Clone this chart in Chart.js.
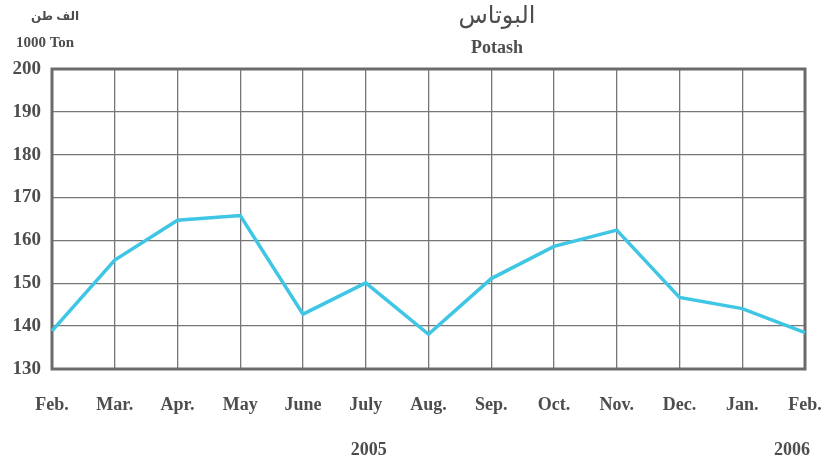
<!DOCTYPE html>
<html>
<head>
<meta charset="utf-8">
<script src="https://cdn.jsdelivr.net/npm/chart.js@4/dist/chart.umd.min.js"></script>
<style>
html,body{margin:0;padding:0;background:#fff;}
#wrap{width:829px;height:465px;position:relative;}
</style>
</head>
<body>
<div id="wrap"><canvas id="c" width="829" height="465"></canvas></div>
<script>
const months = ["Feb.","Mar.","Apr.","May","June","July","Aug.","Sep.","Oct.","Nov.","Dec.","Jan.","Feb."];
const potash = [138.9,155.4,164.7,165.8,142.8,150.1,138.1,151.1,158.6,162.4,146.7,144.1,138.5];
const yearLabels = ["2005","2006"];
const yearIndex = [5,12];
const titleAr = "البوتاس";
const titleEn = "Potash";
const unitAr = "الف طن";
const unitEn = "1000 Ton";

const FONT = "'Liberation Serif','Times New Roman',serif";
const TXT = "#4d4d4d";

const extras = {
  id: 'extras',
  beforeDatasetsDraw(chart){
    const {ctx, chartArea:a} = chart;
    ctx.save();
    ctx.strokeStyle = '#6b6b6b';
    ctx.lineWidth = 3;
    ctx.strokeRect(a.left, a.top, a.right - a.left, a.bottom - a.top);
    ctx.restore();
  },
  afterDraw(chart){
    const {ctx} = chart;
    const x = chart.scales.x;
    ctx.save();
    ctx.fillStyle = TXT;
    ctx.textBaseline = 'middle';
    ctx.textAlign = 'center';
    ctx.font = "24px 'Noto Sans','DejaVu Sans',sans-serif";
    ctx.fillText(titleAr, 497, 16);
    ctx.font = "bold 18px " + FONT;
    ctx.fillText(titleEn, 497, 48);
    ctx.font = "bold 12px 'Noto Sans','DejaVu Sans',sans-serif";
    ctx.fillText(unitAr, 55, 17);
    ctx.font = "bold 15px " + FONT;
    ctx.fillText(unitEn, 45, 43);
    ctx.font = "bold 18px " + FONT;
    const last = months.length - 1;
    yearLabels.forEach((lab, i) => {
      const idx = yearIndex[i];
      const px = x.getPixelForValue(idx);
      ctx.fillText(lab, idx === last ? px - 13 : px + 3, 450);
    });
    ctx.restore();
  }
};

new Chart(document.getElementById('c'), {
  type: 'line',
  data: {
    labels: months,
    datasets: [{
      data: potash,
      borderColor: '#3ec6e4',
      borderWidth: 3.5,
      pointRadius: 0,
      tension: 0,
      fill: false
    }]
  },
  options: {
    responsive: false,
    animation: false,
    events: [],
    layout: {padding: {left: 0, right: 24, top: 69, bottom: 0}},
    plugins: {legend: {display: false}, tooltip: {enabled: false}},
    scales: {
      x: {
        offset: false,
        grid: {color: '#777', lineWidth: 1.3, drawTicks: false},
        border: {display: false},
        ticks: {color: TXT, font: {family: FONT, size: 18, weight: 'bold'}, padding: 26, maxRotation: 0, autoSkip: false},
        afterFit(s){ s.height = 96; s.paddingLeft = 0; s.paddingRight = 0; }
      },
      y: {
        min: 130, max: 200,
        grid: {color: '#777', lineWidth: 1.3, drawTicks: false},
        border: {display: false},
        ticks: {stepSize: 10, color: TXT, font: {family: FONT, size: 19, weight: 'bold'}, padding: 11},
        afterFit(s){ s.width = 52; s.paddingTop = 0; s.paddingBottom = 0; }
      }
    }
  },
  plugins: [extras]
});
</script>
</body>
</html>
